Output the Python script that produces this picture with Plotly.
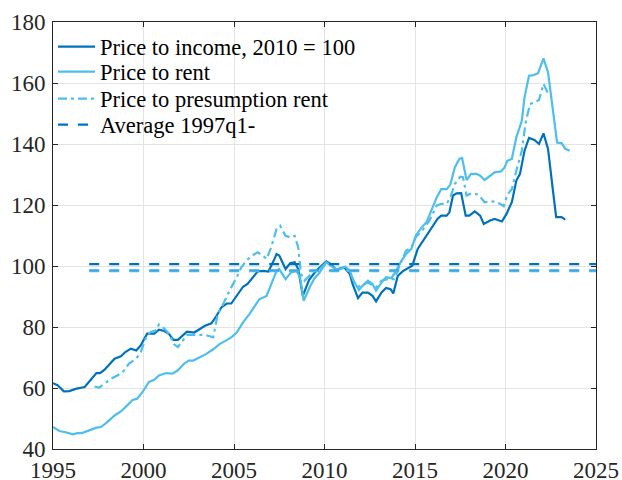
import plotly.graph_objects as go

DARK = "#0072BD"
LIGHT = "#4DBEEE"
FONT = "Liberation Serif, Times New Roman, Times, serif"

inc_x = [1995.0, 1995.25, 1995.6, 1995.9, 1996.3, 1996.55, 1996.75, 1996.9, 1997.4, 1997.6, 1997.85,
         1998.4, 1998.75, 1999.0, 1999.3, 1999.6, 1999.85, 2000.2, 2000.6, 2000.85, 2001.15, 2001.4,
         2001.65, 2001.9, 2002.15, 2002.4, 2002.8, 2003.4, 2003.75, 2004.0, 2004.3, 2004.6, 2004.85,
         2005.15, 2005.5, 2005.75, 2006.05, 2006.3, 2006.6, 2006.9, 2007.15, 2007.35, 2007.5, 2007.85,
         2008.1, 2008.35, 2008.55, 2008.8, 2009.15, 2009.45, 2009.7, 2010.1, 2010.35, 2010.65, 2010.9,
         2011.1, 2011.4, 2011.55, 2011.85, 2012.1, 2012.4, 2012.65, 2012.85, 2013.15, 2013.4, 2013.65,
         2013.8, 2014.05, 2014.35, 2014.6, 2014.85, 2015.15, 2015.45, 2015.7, 2016.0, 2016.25, 2016.45,
         2016.75, 2016.9, 2017.1, 2017.3, 2017.55, 2017.8, 2018.0, 2018.3, 2018.6, 2018.8, 2019.15,
         2019.4, 2019.8, 2020.05, 2020.35, 2020.6, 2020.8, 2021.05, 2021.3, 2021.6, 2021.85, 2022.1,
         2022.35, 2022.6, 2022.8, 2023.1, 2023.3]
inc_y = [61.6, 60.9, 58.9, 59.0, 59.8, 60.1, 60.3, 61.4, 64.9, 64.9, 66.0,
         69.6, 70.4, 71.8, 72.9, 72.3, 74.0, 77.8, 77.8, 79.1, 78.7, 77.8,
         75.8, 75.8, 77.3, 78.5, 78.2, 80.4, 81.2, 83.3, 86.4, 87.7, 87.7,
         90.2, 93.2, 94.1, 96.5, 98.2, 98.4, 98.2, 101.2, 103.9, 103.4, 99.0,
         100.9, 101.2, 99.0, 90.2, 95.5, 97.8, 99.3, 101.5, 100.6, 98.7, 99.3,
         99.5, 97.4, 94.1, 89.5, 91.3, 91.3, 90.2, 88.4, 91.3, 92.8, 92.4,
         91.0, 96.8, 98.4, 99.3, 100.1, 105.6, 108.3, 110.7, 113.2, 115.5, 116.5,
         116.5, 117.6, 123.1, 123.8, 123.9, 116.5, 116.5, 117.9, 116.5, 113.8, 114.9,
         115.4, 114.6, 117.0, 120.9, 128.0, 130.2, 137.8, 142.0, 141.3, 140.0, 143.5,
         138.4, 125.8, 116.0, 116.0, 115.2]

rent_x = [1995.0, 1995.35, 1995.7, 1996.1, 1996.35, 1996.6, 1997.0, 1997.4, 1997.65, 1998.0, 1998.4,
          1998.75, 1999.1, 1999.4, 1999.65, 1999.95, 2000.3, 2000.6, 2000.85, 2001.25, 2001.6, 2001.9,
          2002.25, 2002.5, 2002.75, 2003.1, 2003.45, 2003.85, 2004.2, 2004.6, 2004.85, 2005.15, 2005.5,
          2005.85, 2006.15, 2006.4, 2006.8, 2007.05, 2007.35, 2007.5, 2007.85, 2008.15, 2008.45, 2008.65,
          2008.85, 2009.2, 2009.45, 2009.7, 2010.1, 2010.35, 2010.65, 2010.9, 2011.15, 2011.4, 2011.6,
          2011.9, 2012.1, 2012.4, 2012.65, 2012.85, 2013.15, 2013.4, 2013.7, 2013.95, 2014.25, 2014.5,
          2014.8, 2015.05, 2015.35, 2015.65, 2015.9, 2016.2, 2016.45, 2016.75, 2016.95, 2017.2, 2017.45,
          2017.6, 2017.85, 2018.1, 2018.4, 2018.6, 2018.85, 2019.15, 2019.4, 2019.75, 2019.95, 2020.1,
          2020.35, 2020.6, 2020.9, 2021.05, 2021.3, 2021.55, 2021.8, 2022.1, 2022.35, 2022.6, 2022.85,
          2023.1, 2023.3, 2023.55]
rent_y = [47.2, 45.9, 45.5, 44.8, 45.2, 45.2, 46.1, 47.0, 47.2, 48.8, 51.0,
          52.3, 54.3, 56.1, 56.5, 58.7, 62.0, 62.7, 64.1, 64.9, 64.7, 65.8,
          68.0, 69.0, 69.0, 70.0, 71.1, 72.7, 74.4, 75.7, 76.6, 78.2, 81.5,
          84.2, 87.0, 89.1, 90.2, 94.1, 98.4, 99.0, 95.7, 97.9, 98.4, 96.3,
          88.6, 93.3, 96.0, 97.6, 101.2, 100.1, 98.7, 99.0, 99.8, 98.4, 95.2,
          92.1, 93.5, 95.2, 94.1, 91.9, 94.6, 96.3, 96.0, 98.4, 101.7, 103.9,
          105.6, 110.0, 112.5, 114.5, 118.3, 122.5, 125.2, 125.2, 126.7, 132.3, 135.1,
          135.4, 128.2, 130.2, 130.2, 129.6, 128.2, 129.6, 130.7, 131.0, 132.3, 134.5,
          135.1, 142.2, 147.6, 155.3, 162.4, 162.6, 163.2, 168.1, 163.5, 152.0, 140.5,
          140.3, 138.4, 137.8]

pres_x = [1997.3, 1997.55, 1997.8, 1998.2, 1998.55, 1998.85, 1999.2, 1999.6, 1999.85, 2000.15, 2000.4,
          2000.7, 2000.85, 2001.15, 2001.4, 2001.7, 2001.9, 2002.15, 2002.4, 2002.9, 2003.4, 2003.85,
          2004.1, 2004.4, 2004.75, 2005.15, 2005.4, 2005.7, 2006.0, 2006.3, 2006.6, 2006.8, 2007.05,
          2007.35, 2007.55, 2007.85, 2008.1, 2008.35, 2008.55, 2008.7, 2008.9, 2009.2, 2009.45, 2009.7,
          2010.1, 2010.65, 2011.1, 2011.4, 2011.65, 2011.9, 2012.4, 2012.85, 2013.15, 2013.5, 2013.85,
          2014.15, 2014.5, 2014.8, 2015.05, 2015.45, 2015.8, 2016.2, 2016.45, 2016.75, 2016.95, 2017.2,
          2017.5, 2017.65, 2017.85, 2018.1, 2018.4, 2018.6, 2018.85, 2019.15, 2019.4, 2019.7, 2019.9,
          2020.1, 2020.35, 2020.6, 2020.9, 2021.1, 2021.35, 2021.6, 2021.85, 2022.1, 2022.3, 2022.4]
pres_y = [60.5, 60.1, 61.2, 63.0, 64.1, 65.2, 68.0, 69.6, 71.8, 76.7, 78.4,
          78.9, 80.8, 79.5, 77.8, 74.3, 73.4, 75.6, 77.4, 77.4, 77.4, 76.6,
          84.2, 87.5, 91.9, 96.3, 99.5, 101.9, 103.4, 104.5, 103.4, 102.3, 106.1,
          112.1, 113.2, 109.9, 109.4, 109.9, 106.1, 97.4, 95.2, 97.0, 98.4, 98.7,
          101.2, 99.0, 99.3, 97.9, 94.6, 93.2, 94.6, 93.0, 95.2, 95.7, 95.7,
          100.1, 105.0, 106.1, 109.5, 112.0, 114.9, 119.8, 120.4, 120.4, 122.5, 126.9,
          129.3, 129.1, 123.1, 123.8, 123.6, 122.7, 120.9, 121.1, 121.2, 120.4, 119.6,
          123.4, 125.2, 131.3, 137.8, 146.6, 153.1, 153.7, 154.4, 159.7, 156.9, 156.0]

avg_x = [1997.0, 2025.0]
avg_income = 100.6
avg_rent = 98.3
avg_pres = 98.6

x_ticks = [1995, 2000, 2005, 2010, 2015, 2020, 2025]
y_ticks = [40, 60, 80, 100, 120, 140, 160, 180]

LW = 2.2
fig = go.Figure()
fig.add_trace(go.Scatter(x=inc_x, y=inc_y, mode="lines", name="Price to income, 2010 = 100",
                         line=dict(color=DARK, width=LW), legend="legend"))
fig.add_trace(go.Scatter(x=rent_x, y=rent_y, mode="lines", name="Price to rent",
                         line=dict(color=LIGHT, width=LW), legend="legend2"))
fig.add_trace(go.Scatter(x=pres_x, y=pres_y, mode="lines", name="Price to presumption rent",
                         line=dict(color=LIGHT, width=LW, dash="9px,4px,3px,4px"), legend="legend3"))
fig.add_trace(go.Scatter(x=avg_x, y=[avg_rent] * 2, mode="lines", showlegend=False,
                         line=dict(color=LIGHT, width=LW, dash="10px,10px")))
fig.add_trace(go.Scatter(x=avg_x, y=[avg_pres] * 2, mode="lines", showlegend=False,
                         line=dict(color="#3AA6E3", width=LW, dash="10px,10px")))
fig.add_trace(go.Scatter(x=avg_x, y=[avg_income] * 2, mode="lines", name="Average 1997q1-",
                         line=dict(color=DARK, width=LW, dash="10px,10px"), legend="legend4"))

axis_common = dict(showline=True, linecolor="#262626", linewidth=1, mirror="ticks",
                   ticks="inside", ticklen=5, tickcolor="#262626", automargin=False,
                   showgrid=True, gridcolor="#e3e3e3", gridwidth=1, zeroline=False,
                   tickfont=dict(family=FONT, size=23, color="#262626"))

fig.update_xaxes(range=[1995, 2025], tickvals=x_ticks, ticklabelstandoff=0, **axis_common)
fig.update_yaxes(range=[40, 180], tickvals=y_ticks, ticklabelstandoff=2, **axis_common)

PLOT_TOP, PLOT_BOTTOM = 22, 449


def leg(py):
    return dict(x=0.0, y=(PLOT_BOTTOM - py) / (PLOT_BOTTOM - PLOT_TOP), xanchor="left", yanchor="middle",
                bgcolor="rgba(255,255,255,0)", borderwidth=0,
                font=dict(family=FONT, size=22.5, color="#000000"),
                tracegroupgap=0, itemwidth=37)


fig.update_layout(
    width=622, height=480,
    margin=dict(l=53, r=26, t=22, b=31),
    plot_bgcolor="white", paper_bgcolor="white",
    font=dict(family=FONT, color="#000000"),
    legend=leg(47), legend2=leg(72), legend3=leg(99), legend4=leg(125),
    showlegend=True,
)

fig.write_html("out.html", config={"displayModeBar": False},
               post_script="document.body.style.margin='0';")
